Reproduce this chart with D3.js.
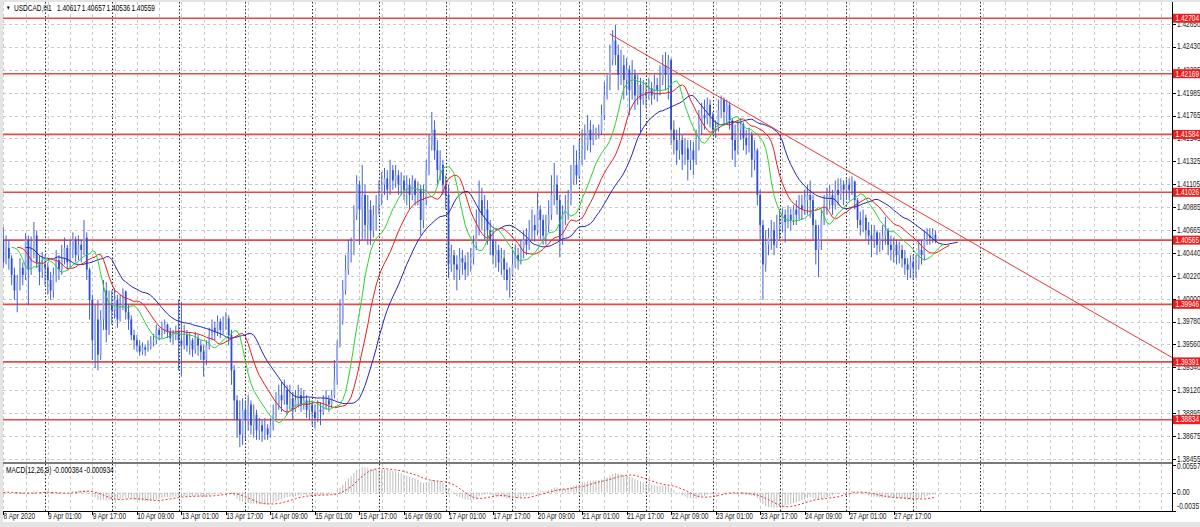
<!DOCTYPE html>
<html><head><meta charset="utf-8">
<script src="https://cdn.jsdelivr.net/npm/d3@7"></script>
<style>html,body{margin:0;padding:0;background:#e6e6e6;overflow:hidden}</style>
</head><body>
<svg id="chart" width="1200" height="527"></svg>
<script>
// ---------------- DATA ----------------
const symbolTitle = "USDCAD,H1";
const lastOHLC = ["1.40617", "1.40657", "1.40536", "1.40559"];
const macdTitle = "MACD(12,26,9) -0.000384 -0.000934";
const firstOpen = 1.4057;

// H1 bars, 8 Apr 2020 09:00 -> 28 Apr 2020 08:00 (open = previous close)
const closes = [
1.4035,1.4049,1.4039,1.4023,1.4008,1.4016,1.4030,1.4023,1.4057,1.4028,1.4052,1.4061,1.4035,1.4026,1.4033,
1.4030,1.4018,1.4008,1.4023,1.4037,1.4028,1.4039,1.4049,1.4035,1.4047,1.4057,1.4042,1.4052,1.4047,1.4059,1.4028,1.3999,1.3960,1.3980,1.3946,1.3980,1.4008,1.3970,1.3994,
1.3989,1.3999,1.3980,1.3994,1.4007,1.3987,1.3980,1.3965,1.3960,1.3955,1.3949,1.3953,1.3951,1.3954,1.3958,1.3960,1.3970,1.3965,1.3970,1.3975,1.3968,1.3962,1.3965,1.3968,
1.3960,1.3955,1.3965,1.3955,1.3960,1.3951,1.3962,1.3955,1.3949,1.3941,1.3955,1.3965,1.3972,1.3968,1.3978,1.3970,1.3975,1.3981,1.3965,1.3931,1.3902,1.3883,1.3869,1.3893,
1.3883,1.3898,1.3878,1.3888,1.3873,1.3878,1.3872,1.3875,1.3869,1.3878,1.3888,1.3898,1.3907,1.3902,1.3912,1.3898,1.3904,1.3893,1.3902,1.3907,1.3898,1.3902,1.3893,1.3898,
1.3891,1.3885,1.3893,1.3891,1.3898,1.3902,1.3898,1.3907,1.3922,1.3955,1.3980,1.4008,1.4028,1.4045,1.4047,1.4081,1.4110,1.4086,1.4100,1.4071,1.4086,1.4066,1.4081,1.4090,
1.4100,1.4110,1.4116,1.4105,1.4124,1.4114,1.4119,1.4110,1.4114,1.4105,1.4110,1.4100,1.4114,1.4100,1.4105,1.4076,1.4095,1.4124,1.4148,1.4163,1.4143,1.4124,1.4129,1.4110,
1.4100,1.4033,1.4042,1.4033,1.4028,1.4039,1.4035,1.4028,1.4035,1.4039,1.4052,1.4071,1.4095,1.4081,1.4086,1.4066,1.4057,1.4042,1.4047,1.4035,1.4039,1.4028,1.4018,1.4023,
1.4033,1.4042,1.4037,1.4049,1.4057,1.4052,1.4064,1.4071,1.4066,1.4086,1.4076,1.4061,1.4071,1.4081,1.4100,1.4110,1.4095,1.4057,1.4081,1.4086,1.4095,1.4114,1.4129,1.4119,
1.4134,1.4143,1.4148,1.4163,1.4153,1.4158,1.4159,1.4161,1.4177,1.4196,1.4206,1.4230,1.4249,1.4235,1.4216,1.4225,1.4211,1.4221,1.4201,1.4216,1.4196,1.4206,1.4192,1.4199,
1.4196,1.4203,1.4196,1.4206,1.4201,1.4211,1.4225,1.4216,1.4230,1.4163,1.4153,1.4143,1.4153,1.4139,1.4145,1.4134,1.4143,1.4134,1.4153,1.4168,1.4177,1.4174,1.4187,1.4177,
1.4163,1.4165,1.4182,1.4192,1.4180,1.4187,1.4172,1.4153,1.4143,1.4163,1.4168,1.4155,1.4148,1.4158,1.4134,1.4143,1.4100,1.4071,1.4033,1.4052,1.4059,1.4066,1.4052,1.4068,
1.4071,1.4081,1.4074,1.4081,1.4076,1.4086,1.4081,1.4090,1.4086,1.4095,1.4100,1.4095,1.4071,1.4047,1.4057,1.4076,1.4090,1.4095,1.4100,1.4090,1.4105,1.4100,1.4110,1.4105,
1.4110,1.4105,1.4113,1.4095,1.4076,1.4071,1.4078,1.4066,1.4061,1.4057,1.4064,1.4052,1.4057,1.4061,1.4066,1.4052,1.4047,1.4052,1.4042,1.4047,1.4039,1.4033,1.4028,1.4035,
1.4030,1.4033,1.4047,1.4042,1.4057,1.4061,1.4059,1.40617,1.40559
];
const highs = [
1.4069,1.4061,1.4057,1.4042,1.4030,1.4023,1.4039,1.4035,1.4063,1.4061,1.4060,1.4074,1.4066,1.4042,1.4045,
1.4042,1.4035,1.4026,1.4030,1.4047,1.4042,1.4052,1.4059,1.4052,1.4057,1.4064,1.4060,1.4061,1.4057,1.4076,1.4064,1.4030,1.4004,1.3994,1.3999,1.3989,1.4018,1.4016,1.4008,
1.4008,1.4010,1.4004,1.4004,1.4010,1.4008,1.3994,1.3984,1.3970,1.3965,1.3960,1.3958,1.3956,1.3960,1.3964,1.3966,1.3975,1.3972,1.3978,1.3980,1.3976,1.3972,1.3970,1.3974,
1.3999,1.3997,1.3975,1.3970,1.3967,1.3962,1.3968,1.3965,1.3960,1.3955,1.3960,1.3972,1.3980,1.3978,1.3984,1.3981,1.3983,1.3987,1.3984,1.3970,1.3936,1.3907,1.3902,1.3904,
1.3902,1.3907,1.3902,1.3898,1.3893,1.3885,1.3883,1.3885,1.3879,1.3885,1.3898,1.3910,1.3917,1.3920,1.3922,1.3917,1.3917,1.3910,1.3912,1.3917,1.3914,1.3912,1.3907,1.3904,
1.3902,1.3898,1.3902,1.3900,1.3907,1.3912,1.3907,1.3912,1.3941,1.3960,1.3999,1.4018,1.4042,1.4057,1.4059,1.4090,1.4119,1.4114,1.4129,1.4110,1.4100,1.4095,1.4090,1.4100,
1.4114,1.4122,1.4126,1.4124,1.4134,1.4129,1.4129,1.4124,1.4122,1.4119,1.4119,1.4116,1.4119,1.4116,1.4113,1.4110,1.4110,1.4134,1.4158,1.4180,1.4172,1.4153,1.4143,1.4134,
1.4119,1.4110,1.4052,1.4047,1.4042,1.4049,1.4047,1.4042,1.4045,1.4049,1.4061,1.4086,1.4114,1.4107,1.4100,1.4095,1.4076,1.4066,1.4057,1.4052,1.4049,1.4047,1.4035,1.4030,
1.4047,1.4052,1.4049,1.4057,1.4066,1.4068,1.4076,1.4086,1.4081,1.4102,1.4090,1.4081,1.4081,1.4095,1.4119,1.4131,1.4119,1.4100,1.4090,1.4100,1.4105,1.4129,1.4148,1.4143,
1.4153,1.4163,1.4168,1.4177,1.4172,1.4168,1.4165,1.4168,1.4187,1.4209,1.4216,1.4245,1.4259,1.4264,1.4245,1.4240,1.4235,1.4232,1.4225,1.4230,1.4221,1.4216,1.4213,1.4211,
1.4209,1.4213,1.4209,1.4216,1.4213,1.4225,1.4235,1.4238,1.4235,1.4232,1.4172,1.4163,1.4165,1.4158,1.4155,1.4153,1.4153,1.4151,1.4163,1.4182,1.4189,1.4192,1.4194,1.4192,
1.4180,1.4172,1.4192,1.4196,1.4194,1.4192,1.4190,1.4174,1.4168,1.4172,1.4174,1.4170,1.4163,1.4165,1.4161,1.4153,1.4145,1.4105,1.4076,1.4066,1.4068,1.4076,1.4074,1.4081,
1.4086,1.4087,1.4086,1.4090,1.4087,1.4090,1.4095,1.4100,1.4100,1.4105,1.4110,1.4114,1.4100,1.4076,1.4071,1.4086,1.4100,1.4107,1.4110,1.4105,1.4114,1.4116,1.4116,1.4114,
1.4116,1.4116,1.4118,1.4114,1.4097,1.4084,1.4086,1.4081,1.4074,1.4071,1.4071,1.4066,1.4064,1.4071,1.4079,1.4068,1.4061,1.4059,1.4057,1.4055,1.4052,1.4047,1.4039,1.4042,
1.4042,1.4042,1.4057,1.4057,1.4066,1.4068,1.4068,1.4068,1.40657
];
const lows = [
1.4030,1.4033,1.4028,1.4013,1.3999,1.3987,1.4008,1.4013,1.4018,1.3994,1.4023,1.4039,1.4030,1.4013,1.4020,
1.4013,1.4004,1.3999,1.4001,1.4016,1.4018,1.4023,1.4033,1.4028,1.4030,1.4039,1.4035,1.4037,1.4035,1.4042,1.4018,1.3980,1.3941,1.3933,1.3931,1.3941,1.3970,1.3958,1.3965,
1.3975,1.3981,1.3972,1.3978,1.3989,1.3980,1.3970,1.3960,1.3951,1.3949,1.3945,1.3946,1.3945,1.3949,1.3951,1.3954,1.3956,1.3960,1.3962,1.3966,1.3962,1.3958,1.3956,1.3960,
1.3931,1.3925,1.3951,1.3949,1.3946,1.3944,1.3947,1.3945,1.3941,1.3925,1.3936,1.3951,1.3960,1.3960,1.3964,1.3962,1.3966,1.3970,1.3955,1.3917,1.3883,1.3866,1.3857,1.3859,
1.3864,1.3873,1.3869,1.3866,1.3864,1.3864,1.3862,1.3864,1.3864,1.3866,1.3873,1.3883,1.3893,1.3891,1.3898,1.3888,1.3893,1.3883,1.3891,1.3895,1.3891,1.3893,1.3885,1.3883,
1.3878,1.3875,1.3881,1.3878,1.3888,1.3893,1.3891,1.3895,1.3904,1.3917,1.3953,1.3975,1.4004,1.4023,1.4035,1.4042,1.4076,1.4052,1.4057,1.4057,1.4052,1.4052,1.4059,1.4066,
1.4081,1.4090,1.4100,1.4095,1.4100,1.4105,1.4107,1.4100,1.4100,1.4095,1.4090,1.4086,1.4095,1.4090,1.4090,1.4061,1.4068,1.4090,1.4119,1.4143,1.4134,1.4110,1.4114,1.4100,
1.4086,1.4020,1.4026,1.4018,1.4008,1.4018,1.4023,1.4018,1.4022,1.4026,1.4033,1.4047,1.4061,1.4066,1.4057,1.4052,1.4042,1.4033,1.4030,1.4026,1.4023,1.4018,1.4008,1.4001,
1.4023,1.4030,1.4028,1.4033,1.4039,1.4042,1.4047,1.4057,1.4055,1.4061,1.4057,1.4052,1.4052,1.4064,1.4076,1.4090,1.4081,1.4040,1.4052,1.4071,1.4076,1.4090,1.4110,1.4110,
1.4116,1.4129,1.4134,1.4143,1.4141,1.4148,1.4153,1.4155,1.4158,1.4172,1.4192,1.4201,1.4225,1.4225,1.4201,1.4206,1.4192,1.4196,1.4177,1.4192,1.4182,1.4187,1.4160,1.4187,
1.4184,1.4192,1.4187,1.4192,1.4190,1.4196,1.4206,1.4201,1.4192,1.4148,1.4139,1.4129,1.4134,1.4124,1.4129,1.4114,1.4124,1.4119,1.4129,1.4143,1.4158,1.4163,1.4168,1.4165,
1.4158,1.4155,1.4161,1.4174,1.4168,1.4168,1.4163,1.4134,1.4127,1.4139,1.4153,1.4143,1.4139,1.4141,1.4117,1.4124,1.4090,1.4057,1.3999,1.4026,1.4042,1.4047,1.4042,1.4049,
1.4057,1.4064,1.4054,1.4068,1.4066,1.4071,1.4071,1.4076,1.4076,1.4081,1.4081,1.4078,1.4057,1.4033,1.4021,1.4047,1.4071,1.4081,1.4086,1.4081,1.4086,1.4090,1.4095,1.4090,
1.4095,1.4095,1.4100,1.4086,1.4068,1.4061,1.4064,1.4057,1.4052,1.4040,1.4049,1.4042,1.4045,1.4047,1.4052,1.4042,1.4037,1.4035,1.4033,1.4034,1.4030,1.4023,1.4018,1.4020,
1.4018,1.4020,1.4028,1.4033,1.4037,1.4052,1.4052,1.4054,1.40536
];

const timeLabels = ["8 Apr 2020","9 Apr 01:00","9 Apr 17:00","10 Apr 09:00","13 Apr 01:00","13 Apr 17:00",
  "14 Apr 09:00","15 Apr 01:00","15 Apr 17:00","16 Apr 09:00","17 Apr 01:00","17 Apr 17:00","20 Apr 09:00",
  "21 Apr 01:00","21 Apr 17:00","22 Apr 09:00","23 Apr 01:00","23 Apr 17:00","24 Apr 09:00","27 Apr 01:00","27 Apr 17:00"];
const timeLabelBars = [0,16,32,48,64,80,96,112,128,144,160,176,192,208,224,240,256,272,288,304,320];
const daySeparatorBars = [15,39,63,87,111,135,159,183,207,231,255,279,303,327,351];

const priceTicks = [1.42650,1.42430,1.42205,1.41985,1.41765,1.41545,1.41325,1.41105,1.40885,1.40665,
  1.40440,1.40220,1.40000,1.39780,1.39560,1.39340,1.39120,1.38895,1.38675,1.38455];
const levels = [1.42704,1.42169,1.41584,1.41026,1.40565,1.39946,1.39391,1.38834];
const trendAnchors = [[218, 1.42552], [420, 1.39434]];
const macdTicks = [0.005572, 0, -0.00357];
const macdTickLabels = ["0.005572", "0.00", "-0.00357"];

// ---------------- LAYOUT ----------------
const svg = d3.select("#chart");
const L = 3, R = 1172, mainTop = 2, mainBot = 462, macdTop = 464, macdBot = 511;
const x = d3.scaleLinear().domain([0, 420]).range([3.3, 1171.95]);
const y = d3.scaleLinear().domain([1.38426, 1.42851]).range([462, 3]);
const ym = d3.scaleLinear().domain([-0.00357, 0.005572]).range([510.5, 464.5]);
const FONT = "'Liberation Sans', Arial, sans-serif";
const SX = 0.76;
const FS = 8.6;

const n = closes.length;
const opens = closes.map((c, i) => i === 0 ? firstOpen : closes[i - 1]);

// indicators (Alligator on median price, MACD on close)
function smma(src, p) { const out = []; let v = src[0]; src.forEach((s, i) => { v = i === 0 ? s : (v * (p - 1) + s) / p; out.push(v); }); return out; }
function ema(src, p) { const k = 2 / (p + 1); const out = []; let v = src[0]; src.forEach((s, i) => { v = i === 0 ? s : s * k + v * (1 - k); out.push(v); }); return out; }
const median = highs.map((h, i) => (h + lows[i]) / 2);
const jaw = smma(median, 13), teeth = smma(median, 8), lips = smma(median, 5);
const e12 = ema(closes, 12), e26 = ema(closes, 26);
const macd = e12.map((v, i) => v - e26[i]);
const signal = macd.map((v, i) => d3.mean(macd.slice(Math.max(0, i - 8), i + 1)));

// background
svg.append("rect").attr("x", 0).attr("y", 0).attr("width", 1200).attr("height", 527).attr("fill", "#e4e4e4");
svg.append("rect").attr("x", L).attr("y", mainTop).attr("width", 1200 - L).attr("height", 522 - mainTop).attr("fill", "#ffffff");

const defs = svg.append("defs");
defs.append("clipPath").attr("id", "clipMain").append("rect").attr("x", L).attr("y", mainTop).attr("width", R - L).attr("height", mainBot - mainTop);
defs.append("clipPath").attr("id", "clipMacd").append("rect").attr("x", L).attr("y", macdTop).attr("width", R - L).attr("height", macdBot - macdTop);

function txt(g, px, py, s, opt = {}) {
  return g.append("text").attr("transform", `translate(${px},${py}) scale(${SX},1)`)
    .attr("font-family", FONT).attr("font-size", opt.size || FS).attr("fill", opt.fill || "#000")
    .attr("dominant-baseline", opt.base || "middle").attr("text-anchor", opt.anchor || "start")
    .style("white-space", "pre").text(s);
}

// grid
const grid = svg.append("g");
const gridBars = d3.range(0, 421, 8);
[[mainTop, mainBot], [macdTop, macdBot]].forEach(([t, b]) => {
  grid.selectAll(null).data(gridBars).enter().append("line")
    .attr("x1", d => Math.round(x(d)) + 0.5).attr("x2", d => Math.round(x(d)) + 0.5)
    .attr("y1", t).attr("y2", b).attr("stroke", "#cbcbcb").attr("stroke-dasharray", "3,3");
});
grid.selectAll(null).data(priceTicks).enter().append("line")
  .attr("x1", L).attr("x2", R).attr("y1", d => Math.round(y(d)) + 0.5).attr("y2", d => Math.round(y(d)) + 0.5)
  .attr("stroke", "#cbcbcb").attr("stroke-dasharray", "3,3");
grid.append("line").attr("x1", L).attr("x2", R).attr("y1", Math.round(ym(0)) + 0.5).attr("y2", Math.round(ym(0)) + 0.5)
  .attr("stroke", "#cbcbcb").attr("stroke-dasharray", "3,3");
[[mainTop, mainBot], [macdTop, macdBot]].forEach(([t, b]) => {
  grid.selectAll(null).data(daySeparatorBars).enter().append("line")
    .attr("x1", d => Math.round(x(d)) + 0.5).attr("x2", d => Math.round(x(d)) + 0.5)
    .attr("y1", t).attr("y2", b).attr("stroke", "#222").attr("stroke-dasharray", "1.5,2");
});

// main panel content
const main = svg.append("g").attr("clip-path", "url(#clipMain)");
main.selectAll(null).data(levels).enter().append("line")
  .attr("x1", L).attr("x2", R).attr("y1", d => y(d)).attr("y2", d => y(d))
  .attr("stroke", "#e34a4a").attr("stroke-width", 1.6);

// candles
const candles = main.append("g");
d3.range(n).forEach(i => {
  const cx = x(i);
  const o = opens[i], c = closes[i];
  const bull = c > o;
  candles.append("line").attr("x1", cx).attr("x2", cx).attr("y1", y(highs[i])).attr("y2", y(lows[i]))
    .attr("stroke", "#4262d8").attr("stroke-width", 1);
  const top = Math.min(y(o), y(c)), h = Math.max(1, Math.abs(y(o) - y(c)));
  candles.append("rect").attr("x", cx - 0.9).attr("y", top).attr("width", 1.8).attr("height", h)
    .attr("fill", Math.abs(c - o) < 0.00002 ? "#000" : (bull ? "#96a9ee" : "#2f50cf"));
});

// Alligator lines
const lineGen = d3.line().x(d => x(d[0])).y(d => y(d[1]));
[[jaw, 8, "#2424b8"], [teeth, 5, "#e3201c"], [lips, 3, "#2ed02e"]].forEach(([arr, shift, col]) => {
  main.append("path").datum(arr.map((v, i) => [i + shift, v]))
    .attr("d", lineGen).attr("fill", "none").attr("stroke", col).attr("stroke-width", 1);
});

// trendline
main.append("line").attr("x1", x(trendAnchors[0][0])).attr("y1", y(trendAnchors[0][1]))
  .attr("x2", x(trendAnchors[1][0])).attr("y2", y(trendAnchors[1][1]))
  .attr("stroke", "#e23a3a").attr("stroke-width", 1);

// MACD panel
const mg = svg.append("g").attr("clip-path", "url(#clipMacd)");
mg.selectAll(null).data(macd).enter().append("line")
  .attr("x1", (d, i) => x(i)).attr("x2", (d, i) => x(i))
  .attr("y1", ym(0)).attr("y2", d => ym(d)).attr("stroke", "#bdbdbd").attr("stroke-width", 1);
mg.append("path").datum(signal.map((v, i) => [i, v]))
  .attr("d", d3.line().x(d => x(d[0])).y(d => ym(d[1])))
  .attr("fill", "none").attr("stroke", "#e03535").attr("stroke-width", 1).attr("stroke-dasharray", "2,2");

// panel separator
svg.append("rect").attr("x", L).attr("y", mainBot).attr("width", R - L + 1).attr("height", 2).attr("fill", "#7a7a7a");

// axes lines
svg.append("line").attr("x1", R + 0.5).attr("x2", R + 0.5).attr("y1", mainTop).attr("y2", macdBot + 0.5).attr("stroke", "#000");
svg.append("line").attr("x1", L).attr("x2", R + 0.5).attr("y1", macdBot + 0.5).attr("y2", macdBot + 0.5).attr("stroke", "#000");

// price axis ticks & labels
const ax = svg.append("g");
ax.selectAll(null).data(priceTicks).enter().append("line")
  .attr("x1", R).attr("x2", R + 4).attr("y1", d => Math.round(y(d)) + 0.5).attr("y2", d => Math.round(y(d)) + 0.5).attr("stroke", "#000");
priceTicks.forEach(v => txt(ax, 1177, y(v) + 0.5, v.toFixed(5), { fill: "#1a1a1a" }));

// MACD axis labels
macdTicks.forEach((v, k) => {
  const yy = k === 0 ? ym(v) + 2.5 : (k === 2 ? ym(v) - 3.5 : ym(v));
  ax.append("line").attr("x1", R).attr("x2", R + 4).attr("y1", Math.round(ym(v)) + 0.5).attr("y2", Math.round(ym(v)) + 0.5).attr("stroke", "#000");
  txt(ax, 1177, yy, macdTickLabels[k], { fill: "#1a1a1a" });
});

// level labels
levels.forEach(v => {
  ax.append("rect").attr("x", R + 1).attr("y", y(v) - 4.5).attr("width", 1200 - R - 1).attr("height", 9).attr("fill", "#ee1d1d");
  txt(ax, 1175.5, y(v) + 0.5, v.toFixed(5), { fill: "#ffffff" });
});

// time axis
const tx = svg.append("g");
tx.selectAll(null).data(timeLabelBars).enter().append("line")
  .attr("x1", d => Math.round(x(d)) + 0.5).attr("x2", d => Math.round(x(d)) + 0.5)
  .attr("y1", macdBot).attr("y2", macdBot + 4).attr("stroke", "#000");
timeLabels.forEach((s, k) => txt(tx, x(timeLabelBars[k]) + 0.3, 517, s, { fill: "#1a1a1a" }));

// titles
txt(svg, 6, 8, "\u25BC", { size: 6 });
txt(svg, 14, 8.5, symbolTitle);
lastOHLC.forEach((s, k) => txt(svg, 57 + k * 24.8, 8.5, s));
txt(svg, 6, 470.5, macdTitle);
</script>
</body></html>
